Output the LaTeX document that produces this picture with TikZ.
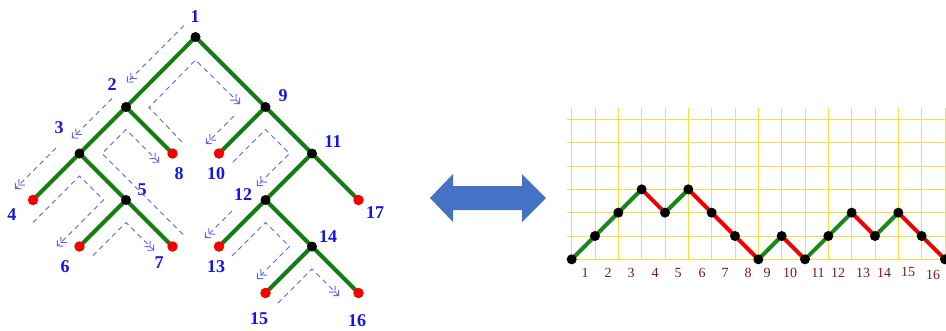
\documentclass[tikz,border=0pt]{standalone}
\usepackage{fontspec}
\setmainfont{Liberation Serif}
\usetikzlibrary{arrows.meta}
\definecolor{lblblue}{RGB}{20,20,235}
\definecolor{dashblue}{RGB}{95,95,255}
\definecolor{treegreen}{RGB}{20,125,20}
\definecolor{leafred}{RGB}{245,0,0}
\definecolor{pathgreen}{RGB}{25,135,25}
\definecolor{pathred}{RGB}{240,0,0}
\definecolor{gridyellow}{RGB}{255,218,70}
\definecolor{lblmaroon}{RGB}{130,20,25}
\definecolor{arrowblue}{RGB}{68,114,196}
\tikzset{
  bdot/.style={circle,fill=black,inner sep=0pt,minimum size=10pt},
  rdot/.style={circle,fill=leafred,inner sep=0pt,minimum size=10.5pt},
  pdot/.style={circle,fill=black,inner sep=0pt,minimum size=10pt},
  edge/.style={draw=treegreen,line width=4pt},
  tlbl/.style={text=lblblue,font=\fontsize{18}{19}\selectfont\bfseries,inner sep=0pt},
  plbl/.style={text=lblmaroon,font=\fontsize{14}{15}\selectfont,inner sep=0pt},
  contour/.style={draw=dashblue,line width=0.9pt,dash pattern=on 5pt off 4pt,
    -{Straight Barb[length=4pt,width=8.5pt,line width=0.9pt]Straight Barb[length=4pt,width=8.5pt,line width=0.9pt]}},
  gridline/.style={draw=gridyellow,line width=0.9pt},
  upseg/.style={draw=pathgreen,line width=4pt},
  downseg/.style={draw=pathred,line width=4pt}
}
\begin{document}
\begin{tikzpicture}[x=1pt,y=-1pt]
\useasboundingbox (0,0) rectangle (946,330);
% ---------------- tree ----------------
\coordinate (c1) at (195.5,37);
\coordinate (c2) at (126,107);
\coordinate (c3) at (79.5,153.5);
\coordinate (c4) at (33,200);
\coordinate (c5) at (126,200);
\coordinate (c6) at (79.5,246.5);
\coordinate (c7) at (172.5,246.5);
\coordinate (c8) at (172.5,153.5);
\coordinate (c9) at (265.5,107);
\coordinate (c10) at (219,153.5);
\coordinate (c11) at (312,153.5);
\coordinate (c12) at (265.5,200);
\coordinate (c13) at (219,246.5);
\coordinate (c14) at (312,246.5);
\coordinate (c15) at (265.5,293);
\coordinate (c16) at (358.5,293);
\coordinate (c17) at (358.5,200);
\foreach \a/\b in {1/2,2/3,3/4,3/5,5/6,5/7,2/8,1/9,9/10,9/11,11/12,12/13,12/14,14/15,14/16,11/17}
  \draw[edge] (c\a) -- (c\b);
\foreach \i in {1,2,3,5,9,11,12,14}
  \node[bdot] (n\i) at (c\i) {};
\foreach \i in {4,6,7,8,10,13,15,16,17}
  \node[rdot] (n\i) at (c\i) {};
% labels
\node[tlbl] (l1) at (195,17) {1};
\node[tlbl] (l2) at (112,85) {2};
\node[tlbl] (l3) at (59,128) {3};
\node[tlbl] (l4) at (12,215) {4};
\node[tlbl] (l5) at (142,190) {5};
\node[tlbl] (l6) at (65,267) {6};
\node[tlbl] (l7) at (159,263) {7};
\node[tlbl] (l8) at (179,174) {8};
\node[tlbl] (l9) at (283,96) {9};
\node[tlbl] (l10) at (216,174) {10};
\node[tlbl] (l11) at (333,142) {11};
\node[tlbl] (l12) at (243,195) {12};
\node[tlbl] (l13) at (216,267) {13};
\node[tlbl] (l14) at (328,237) {14};
\node[tlbl] (l15) at (259,319) {15};
\node[tlbl] (l16) at (357,321) {16};
\node[tlbl] (l17) at (375,213) {17};
% contour (dashed) arrows
\draw[contour] (184,25.5) -- (127,82.4);
\draw[contour] (112,98.4) -- (72,138.4);
\draw[contour] (56,148) -- (15,189);
\draw[contour] (33,222.6) -- (79.5,176) -- (103.4,200) -- (57,246.4);
\draw[contour] (93,255.6) -- (126,222.6) -- (154,250.6);
\draw[contour] (183,234.4) -- (102.1,153.5) -- (126,129.6) -- (159,162.6);
\draw[contour] (182,142) -- (149,107.4) -- (195.5,60) -- (240,104);
\draw[contour] (234,116) -- (206,144);
\draw[contour] (233,162) -- (265.5,129.6) -- (289.4,153.5) -- (257,186);
\draw[contour] (232,211) -- (205,238);
\draw[contour] (232,256) -- (265.5,222.6) -- (289.4,246.5) -- (257,279);
\draw[contour] (278,303) -- (312,269.1) -- (339,296);
% ---------------- double arrow ----------------
\fill[arrowblue] (430,198) -- (453,174) -- (453,186) -- (522,186) -- (522,174) -- (546,198)
  -- (522,222) -- (522,210) -- (453,210) -- (453,222) -- cycle;
% ---------------- grid ----------------
\foreach \i in {0,...,16}
  \draw[gridline] ({571.67+23.333*\i},108) -- ({571.67+23.333*\i},259.3);
\foreach \j in {0,...,6}
  \draw[gridline] (567,{259.33-23.33*\j}) -- (946,{259.33-23.33*\j});
% ---------------- lattice path ----------------
\foreach \i/\h in {0/0,1/1,2/2,3/3,4/2,5/3,6/2,7/1,8/0,9/1,10/0,11/1,12/2,13/1,14/2,15/1,16/0}
  \coordinate (q\i) at ({571.67+23.333*\i},{259.33-23.33*\h});
\foreach \a/\b in {0/1,1/2,2/3,4/5,8/9,10/11,11/12,13/14}
  \draw[upseg] (q\a) -- (q\b);
\foreach \a/\b in {3/4,5/6,6/7,7/8,9/10,12/13,14/15,15/16}
  \draw[downseg] (q\a) -- (q\b);
\foreach \i in {0,...,16}
  \node[pdot] (p\i) at (q\i) {};
% bottom labels
\foreach \i/\x/\y in {1/585/273,2/608/273,3/631/273,4/655/273,5/678/273,6/702/273,7/725/273,8/748/273,9/767/273,10/790/273,11/818/273,12/838/273,13/863/273,14/884/273,15/908/272,16/933/275}
  \node[plbl] (t\i) at (\x,\y) {\i};
\end{tikzpicture}
\end{document}
